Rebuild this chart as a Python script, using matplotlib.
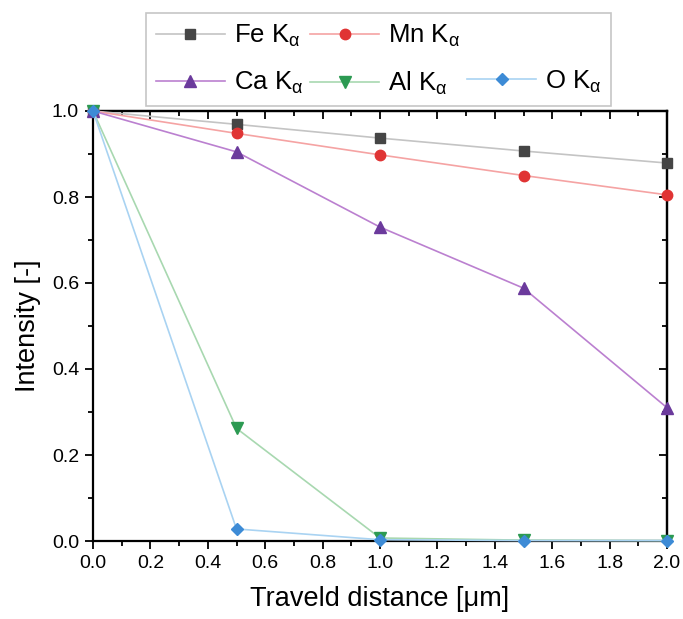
import matplotlib.pyplot as plt
from matplotlib.lines import Line2D
from matplotlib.ticker import MultipleLocator

plt.rcParams['font.family'] = ['Liberation Sans', 'DejaVu Sans']
plt.rcParams['mathtext.fontset'] = 'custom'
plt.rcParams['mathtext.rm'] = 'Liberation Sans'
plt.rcParams['mathtext.default'] = 'regular'

distance = [0.0, 0.5, 1.0, 1.5, 2.0]
fe = [1.0, 0.969, 0.937, 0.907, 0.879]
mn = [1.0, 0.948, 0.898, 0.850, 0.805]
ca = [1.0, 0.905, 0.730, 0.588, 0.310]
al = [1.0, 0.262, 0.007, 0.002, 0.001]
o = [1.0, 0.028, 0.003, 0.001, 0.001]

series = [
    (fe, r'Fe K$_{α}$', '#c4c4c4', '#454545', 's', 6.5),
    (mn, r'Mn K$_{α}$', '#f5a3a3', '#e03434', 'o', 7.5),
    (ca, r'Ca K$_{α}$', '#bb80d0', '#6b3a9c', '^', 8.5),
    (al, r'Al K$_{α}$', '#a8d8b0', '#2c9a52', 'v', 8.5),
    (o, r'O K$_{α}$', '#a9d3f2', '#3d8bd6', 'D', 6.5),
]

fig = plt.figure(figsize=(6.83, 6.19), dpi=100)
ax = fig.add_axes([93 / 683, 78 / 619, 574 / 683, 430 / 619])

handles = []
for vals, label, lc, mc, mk, ms in series:
    h, = ax.plot(distance, vals, color=lc, lw=1.2, marker=mk, ms=ms,
                 mfc=mc, mec=mc, label=label, clip_on=False, zorder=3)
    handles.append(h)

ax.set_xlim(0, 2.0)
ax.set_ylim(0, 1.0)
ax.xaxis.set_major_locator(MultipleLocator(0.2))
ax.xaxis.set_minor_locator(MultipleLocator(0.1))
ax.yaxis.set_major_locator(MultipleLocator(0.2))
ax.yaxis.set_minor_locator(MultipleLocator(0.1))
ax.tick_params(which='both', direction='out', labelsize=14, width=1.3,
               pad=4)
ax.tick_params(which='major', length=6)
ax.tick_params(which='minor', length=3.5)
ax.xaxis.set_major_formatter(lambda v, p: f'{v:.1f}')
ax.yaxis.set_major_formatter(lambda v, p: f'{v:.1f}')

# mirrored ticks on top and right, pointing inward
top = ax.secondary_xaxis('top')
top.xaxis.set_major_locator(MultipleLocator(0.2))
top.xaxis.set_minor_locator(MultipleLocator(0.1))
top.tick_params(which='both', direction='in', labeltop=False, width=1.3)
top.tick_params(which='major', length=6)
top.tick_params(which='minor', length=3.5)
right = ax.secondary_yaxis('right')
right.yaxis.set_major_locator(MultipleLocator(0.2))
right.yaxis.set_minor_locator(MultipleLocator(0.1))
right.tick_params(which='both', direction='in', labelright=False, width=1.3)
right.tick_params(which='major', length=6)
right.tick_params(which='minor', length=3.5)

for sp in ax.spines.values():
    sp.set_linewidth(1.6)
top.spines['top'].set_linewidth(1.6)
right.spines['right'].set_linewidth(1.6)

ax.set_xlabel('Traveld distance [μm]', fontsize=19.5, labelpad=10)
ax.set_ylabel('Intensity [-]', fontsize=19.5, labelpad=8)

# column-wise fill: Fe/Ca, Mn/Al, blank/O
blank = Line2D([], [], color='none')
fe_h, mn_h, ca_h, al_h, o_h = handles
order = [fe_h, ca_h, mn_h, al_h, blank, o_h]
labels = [h.get_label() if h is not blank else '' for h in order]
leg = fig.legend(order, labels, ncol=3, loc='upper left',
                 bbox_to_anchor=(146 / 683, 1 - 13 / 619), fontsize=18.5,
                 frameon=True, fancybox=False, edgecolor='#b8b8b8',
                 handlelength=2.7, handletextpad=0.35, columnspacing=0.25,
                 labelspacing=0.8, borderpad=0.38, borderaxespad=0)
leg.get_frame().set_linewidth(1.2)

fig.savefig('out.png', dpi=100)
